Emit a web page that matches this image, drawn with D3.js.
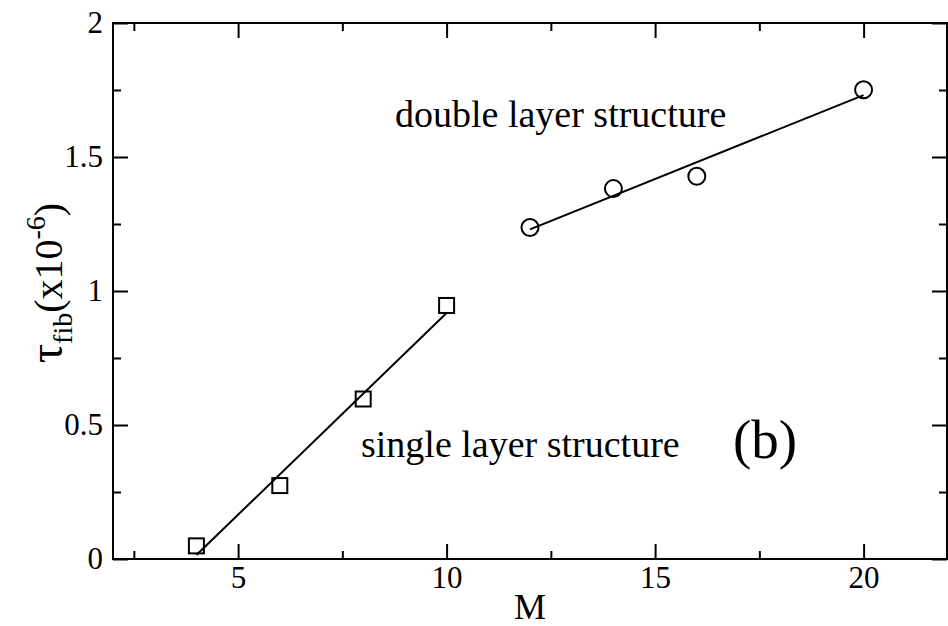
<!DOCTYPE html>
<html>
<head>
<meta charset="utf-8">
<script src="https://cdn.jsdelivr.net/npm/d3@7"></script>
<style>
  body { margin: 0; background: #fff; }
  svg { display: block; }
  text { font-family: "Liberation Serif", "Times New Roman", serif; fill: #000; }
</style>
</head>
<body>
<div id="chart"></div>
<script>
// values
var singleM = [4, 6, 8, 10];
var singleTau = [0.049, 0.274, 0.597, 0.946];
var doubleM = [12, 14, 16, 20];
var doubleTau = [1.237, 1.382, 1.428, 1.751];
// fitted straight lines (end points)
var singleFitM = [4, 10], singleFitTau = [0.015, 0.918];
var doubleFitM = [12, 20], doubleFitTau = [1.230, 1.731];

var xMajor = [5, 10, 15, 20];
var xMinor = [2.5, 7.5, 12.5, 17.5];
var yMajor = [0, 0.5, 1, 1.5, 2];
var yMinor = [0.25, 0.75, 1.25, 1.75];

var serif = "'Liberation Serif', 'Times New Roman', serif";

var svgWidth = 948, svgHeight = 626;
var margin = { top: 23, right: 1, bottom: 67, left: 113 };
var width = svgWidth - margin.left - margin.right;
var height = svgHeight - margin.top - margin.bottom;

var svg = d3.select("#chart").append("svg")
    .attr("width", svgWidth)
    .attr("height", svgHeight)
  .append("g")
    .attr("transform", "translate(" + margin.left + "," + margin.top + ")");

var x = d3.scaleLinear().domain([2, 22]).range([0, width]);
var y = d3.scaleLinear().domain([0, 2]).range([height, 0]);

function styleAxis(g) {
    g.attr("font-family", serif);
    g.select(".domain").remove();
    g.selectAll(".tick line").attr("stroke", "#000").attr("stroke-width", 2);
    g.selectAll(".tick text")
        .attr("font-family", serif)
        .style("font-family", serif)
        .style("font-size", "31px")
        .attr("fill", "#000");
}

// bottom
svg.append("g").attr("transform", "translate(0," + height + ")")
    .call(d3.axisBottom(x).tickValues(xMajor).tickSize(-15).tickPadding(7).tickFormat(d3.format("d")))
    .call(styleAxis);
svg.append("g").attr("transform", "translate(0," + height + ")")
    .call(d3.axisBottom(x).tickValues(xMinor).tickSize(-8).tickFormat(""))
    .call(styleAxis);
// top
svg.append("g")
    .call(d3.axisTop(x).tickValues(xMajor).tickSize(-15).tickFormat(""))
    .call(styleAxis);
svg.append("g")
    .call(d3.axisTop(x).tickValues(xMinor).tickSize(-8).tickFormat(""))
    .call(styleAxis);
// left
svg.append("g")
    .call(d3.axisLeft(y).tickValues(yMajor).tickSize(-15).tickPadding(10).tickFormat(d3.format("")))
    .call(styleAxis);
svg.append("g")
    .call(d3.axisLeft(y).tickValues(yMinor).tickSize(-8).tickFormat(""))
    .call(styleAxis);
// right
svg.append("g").attr("transform", "translate(" + width + ",0)")
    .call(d3.axisRight(y).tickValues(yMajor).tickSize(-15).tickFormat(""))
    .call(styleAxis);
svg.append("g").attr("transform", "translate(" + width + ",0)")
    .call(d3.axisRight(y).tickValues(yMinor).tickSize(-8).tickFormat(""))
    .call(styleAxis);

// frame
svg.append("rect")
    .attr("x", 0).attr("y", 0)
    .attr("width", width).attr("height", height)
    .attr("fill", "none")
    .attr("stroke", "#000")
    .attr("stroke-width", 2);

// fit lines
var line = d3.line()
    .x(function(d) { return x(d[0]); })
    .y(function(d) { return y(d[1]); });

svg.append("path")
    .attr("d", line(d3.zip(singleFitM, singleFitTau)))
    .attr("fill", "none").attr("stroke", "#000").attr("stroke-width", 2);
svg.append("path")
    .attr("d", line(d3.zip(doubleFitM, doubleFitTau)))
    .attr("fill", "none").attr("stroke", "#000").attr("stroke-width", 2);

// markers
var sq = 15;
svg.selectAll(".sq")
    .data(d3.zip(singleM, singleTau))
    .enter().append("rect")
    .attr("class", "sq")
    .attr("x", function(d) { return x(d[0]) - sq / 2; })
    .attr("y", function(d) { return y(d[1]) - sq / 2; })
    .attr("width", sq).attr("height", sq)
    .attr("fill", "none").attr("stroke", "#000").attr("stroke-width", 2);

svg.selectAll(".circ")
    .data(d3.zip(doubleM, doubleTau))
    .enter().append("circle")
    .attr("class", "circ")
    .attr("cx", function(d) { return x(d[0]); })
    .attr("cy", function(d) { return y(d[1]); })
    .attr("r", 8.5)
    .attr("fill", "none").attr("stroke", "#000").attr("stroke-width", 2);

// annotations
svg.append("text")
    .attr("x", 395 - margin.left).attr("y", 127 - margin.top)
    .style("font-size", "38px")
    .text("double layer structure");
svg.append("text")
    .attr("x", 361 - margin.left).attr("y", 457 - margin.top)
    .style("font-size", "38px")
    .text("single layer structure");
svg.append("text")
    .attr("x", 733 - margin.left).attr("y", 458 - margin.top)
    .style("font-size", "55px")
    .text("(b)");

// axis titles
svg.append("text")
    .attr("x", width / 2).attr("y", 619 - margin.top)
    .attr("text-anchor", "middle")
    .style("font-size", "36px")
    .text("M");

var yl = svg.append("text")
    .attr("transform", "translate(" + (62 - margin.left) + "," + (283 - margin.top) + ") rotate(-90)")
    .attr("text-anchor", "middle")
    .style("font-size", "40px");
yl.append("tspan").style("font-size", "48px").text("\u03c4");
yl.append("tspan").attr("dy", 10).style("font-size", "28px").text("fib");
yl.append("tspan").attr("dy", -10).text("(x10");
yl.append("tspan").attr("dy", -17).style("font-size", "28px").text("-6");
yl.append("tspan").attr("dy", 17).text(")");
</script>
</body>
</html>
